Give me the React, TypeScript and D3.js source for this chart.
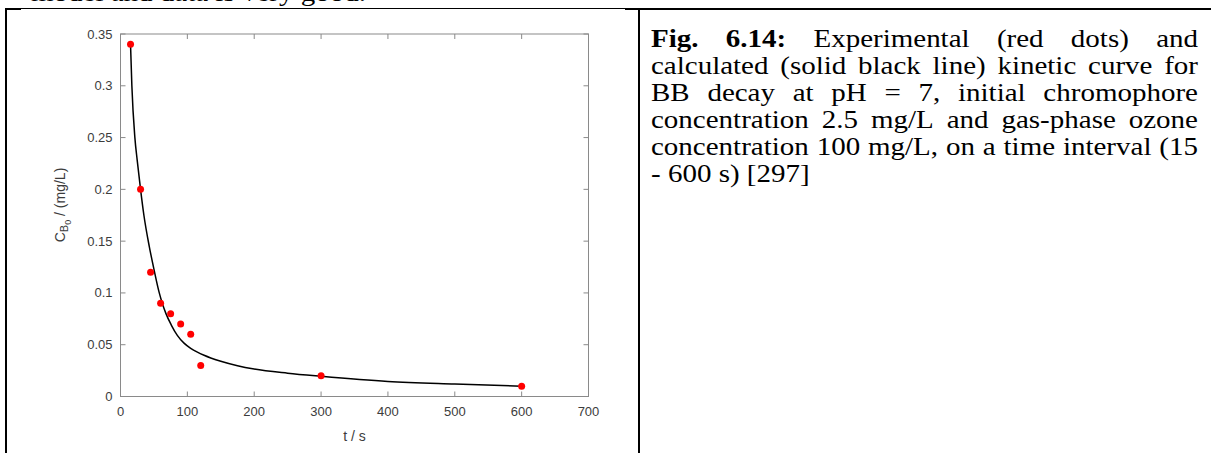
import React, { useMemo } from "react";
import * as d3 from "d3";

// ---- data ----
const expT = [15, 30, 45, 60, 75, 90, 105, 120, 300, 600];
const expC = [0.34, 0.2, 0.12, 0.09, 0.08, 0.07, 0.06, 0.03, 0.02, 0.01];

const calcT = [15, 17, 21.5, 25, 30, 35, 43, 50, 58, 62, 68, 76, 85, 95, 105, 115, 125, 135, 150, 175, 200, 250, 300, 400, 500, 600];
const calcC = [0.34, 0.3, 0.25, 0.228, 0.2, 0.175, 0.145, 0.123, 0.1, 0.091, 0.08, 0.069, 0.059, 0.0515, 0.0465, 0.0428, 0.0398, 0.0372, 0.034, 0.0297, 0.0265, 0.0225, 0.0195, 0.0145, 0.012, 0.01];

const xTicks = [0, 100, 200, 300, 400, 500, 600, 700];
const yTicks = [0, 0.05, 0.1, 0.15, 0.2, 0.25, 0.3, 0.35];
const yTickLabels = ["0", "0.05", "0.1", "0.15", "0.2", "0.25", "0.3", "0.35"];

const captionLines: { text: string; bold: boolean }[][] = [
  [
    { text: "Fig.", bold: true },
    { text: "6.14:", bold: true },
    { text: "Experimental", bold: false },
    { text: "(red", bold: false },
    { text: "dots)", bold: false },
    { text: "and", bold: false },
  ],
  "calculated (solid black line) kinetic curve for".split(" ").map((t) => ({ text: t, bold: false })),
  "BB decay at pH = 7, initial chromophore".split(" ").map((t) => ({ text: t, bold: false })),
  "concentration 2.5 mg/L and gas-phase ozone".split(" ").map((t) => ({ text: t, bold: false })),
  "concentration 100 mg/L, on a time interval (15".split(" ").map((t) => ({ text: t, bold: false })),
  "- 600 s) [297]".split(" ").map((t) => ({ text: t, bold: false })),
];
const topText = "model and data is very good.";

const W = 1211;
const H = 453;
const SERIF = "Liberation Serif";
const SANS = "Liberation Sans";

export default function App() {
  const x = d3.scaleLinear().domain([0, 700]).range([120.5, 588.5]);
  const y = d3.scaleLinear().domain([0, 0.35]).range([396.5, 34]);

  const line = d3
    .line<number>()
    .x((_, i) => x(calcT[i]))
    .y((d) => y(d))
    .curve(d3.curveMonotoneX);

  const fs = 25;
  const sx = 1.16;
  const capLeft = 651;
  const capRight = 1198;
  const target = (capRight - capLeft) / sx;
  const firstBase = 47;
  const pitch = 27;

  const layout = useMemo(() => {
    const cv = document.createElement("canvas");
    const ctx = cv.getContext("2d")!;
    const measure = (t: string, b: boolean) => {
      ctx.font = `${b ? "bold " : ""}${fs}px "${SERIF}"`;
      return ctx.measureText(t).width;
    };
    ctx.font = `${fs}px "${SERIF}"`;
    const spaceW = ctx.measureText(" ").width;
    return captionLines.map((words, li) => {
      const widths = words.map((w) => measure(w.text, w.bold));
      const sum = widths.reduce((a, b) => a + b, 0);
      const last = li === captionLines.length - 1;
      const gap = last || words.length < 2 ? spaceW : (target - sum) / (words.length - 1);
      let cx = 0;
      return words.map((w, i) => {
        const pos = cx;
        cx += widths[i] + gap;
        return { ...w, x: pos };
      });
    });
  }, []);

  const [x0, x1] = x.range();
  const [yb, yt] = y.range();
  const axisColor = "#8a8a8a";
  const textColor = "#3c3c3c";
  const tl = 5;

  return (
    <svg
      width={W}
      height={H}
      style={{ position: "absolute", left: 0, top: 0, background: "#fff" }}
    >
      <rect x={0} y={0} width={W} height={H} fill="#fff" />
      {/* clipped text above */}
      <text
        transform={`translate(31,0.5) scale(${sx},1)`}
        fontFamily={SERIF}
        fontSize={fs}
        fill="#000"
      >
        {topText}
      </text>

      {/* table borders */}
      <line x1={5} x2={21} y1={9} y2={9} stroke="#000" strokeWidth={2} />
      <line x1={20} x2={626} y1={8.5} y2={8.5} stroke="#000" strokeWidth={1.2} />
      <line x1={625} x2={W} y1={9} y2={9} stroke="#000" strokeWidth={2} />
      <line x1={6} x2={6} y1={8} y2={H} stroke="#000" strokeWidth={2} />
      <line x1={639} x2={639} y1={8} y2={H} stroke="#000" strokeWidth={2} />

      {/* plot box */}
      <rect x={x0} y={yt} width={x1 - x0} height={yb - yt} fill="none" stroke={axisColor} strokeWidth={1} />
      {xTicks.map((t) => (
        <g key={"xt" + t}>
          <line x1={x(t)} x2={x(t)} y1={yb} y2={yb - tl} stroke={axisColor} />
          <line x1={x(t)} x2={x(t)} y1={yt} y2={yt + tl} stroke={axisColor} />
          <text
            x={x(t)}
            y={yb + 19}
            textAnchor="middle"
            fontFamily={SANS}
            fontSize={13}
            fill={textColor}
          >
            {t}
          </text>
        </g>
      ))}
      {yTicks.map((t, i) => (
        <g key={"yt" + i}>
          <line x1={x0} x2={x0 + tl} y1={y(t)} y2={y(t)} stroke={axisColor} />
          <line x1={x1} x2={x1 - tl} y1={y(t)} y2={y(t)} stroke={axisColor} />
          <text
            x={x0 - 8}
            y={y(t) + 4.5}
            textAnchor="end"
            fontFamily={SANS}
            fontSize={13}
            fill={textColor}
          >
            {yTickLabels[i]}
          </text>
        </g>
      ))}
      <text
        x={(x0 + x1) / 2}
        y={441}
        textAnchor="middle"
        fontFamily={SANS}
        fontSize={14}
        fill={textColor}
      >
        t / s
      </text>
      <text
        transform="translate(65,205) rotate(-90)"
        textAnchor="middle"
        fontFamily={SANS}
        fontSize={14}
        fill={textColor}
      >
        C
        <tspan dy={3} fontSize={11}>B</tspan>
        <tspan dy={3} fontSize={9}>0</tspan>
        <tspan dy={-6} fontSize={14}>{" / (mg/L)"}</tspan>
      </text>

      {/* calculated curve */}
      <path d={line(calcC) || ""} fill="none" stroke="#000" strokeWidth={1.5} />
      {/* experimental points */}
      {expT.map((t, i) => (
        <circle key={"p" + i} cx={x(t)} cy={y(expC[i])} r={3.5} fill="#ff0000" />
      ))}

      {/* caption */}
      <g transform={`translate(${capLeft},0) scale(${sx},1)`} fontSize={fs} fill="#000">
        {layout.map((words, li) => (
          <g key={"l" + li}>
            {words.map((w, wi) => (
              <text
                key={wi}
                x={w.x}
                y={firstBase + li * pitch}
                fontFamily={SERIF}
                fontWeight={w.bold ? "bold" : "normal"}
              >
                {w.text}
              </text>
            ))}
          </g>
        ))}
      </g>
    </svg>
  );
}
